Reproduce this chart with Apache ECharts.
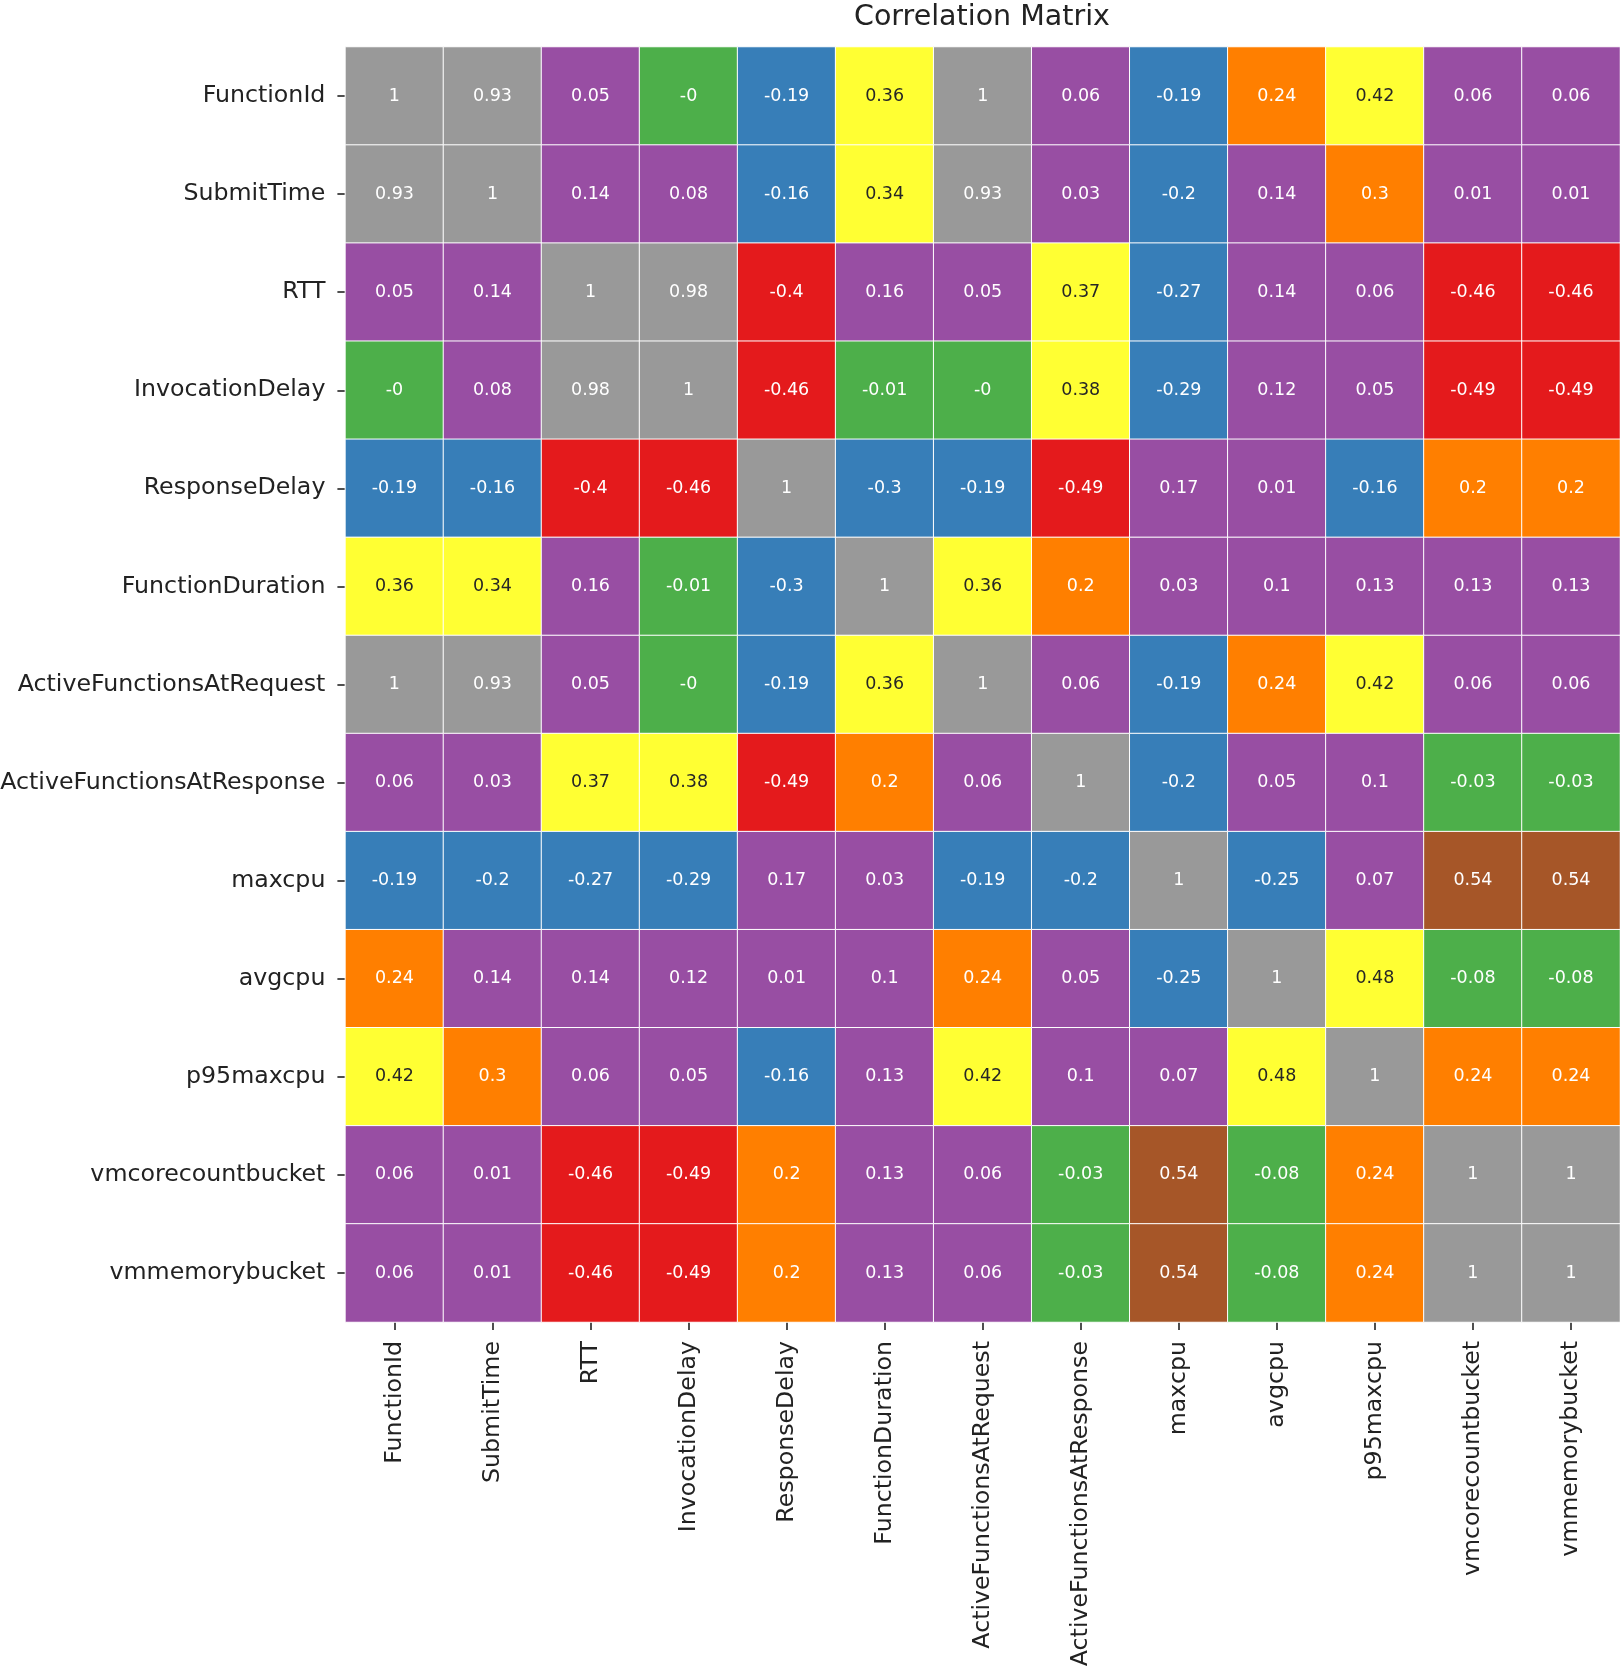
<!DOCTYPE html>
<html>
<head>
<meta charset="utf-8">
<script src="https://cdn.jsdelivr.net/npm/echarts@6/dist/echarts.min.js"></script>
<style>
html,body{margin:0;padding:0;background:#fff;}
#chart{width:1620px;height:1670px;}
</style>
</head>
<body>
<div id="chart"></div>
<script>
// Variables (same order on both axes)
const categories = ['FunctionId','SubmitTime','RTT','InvocationDelay','ResponseDelay','FunctionDuration',
  'ActiveFunctionsAtRequest','ActiveFunctionsAtResponse','maxcpu','avgcpu','p95maxcpu',
  'vmcorecountbucket','vmmemorybucket'];

// Correlation rows ("-0" cells are tiny negatives)
const rowFunctionId        = [1, 0.93, 0.05, -0.003, -0.19, 0.36, 1, 0.06, -0.19, 0.24, 0.42, 0.06, 0.06];
const rowSubmitTime        = [0.93, 1, 0.14, 0.08, -0.16, 0.34, 0.93, 0.03, -0.2, 0.14, 0.3, 0.01, 0.01];
const rowRTT               = [0.05, 0.14, 1, 0.98, -0.4, 0.16, 0.05, 0.37, -0.27, 0.14, 0.06, -0.46, -0.46];
const rowInvocationDelay   = [-0.003, 0.08, 0.98, 1, -0.46, -0.01, -0.003, 0.38, -0.29, 0.12, 0.05, -0.49, -0.49];
const rowResponseDelay     = [-0.19, -0.16, -0.4, -0.46, 1, -0.3, -0.19, -0.49, 0.17, 0.01, -0.16, 0.2, 0.2];
const rowFunctionDuration  = [0.36, 0.34, 0.16, -0.01, -0.3, 1, 0.36, 0.2, 0.03, 0.1, 0.13, 0.13, 0.13];
const rowActiveAtRequest   = [1, 0.93, 0.05, -0.003, -0.19, 0.36, 1, 0.06, -0.19, 0.24, 0.42, 0.06, 0.06];
const rowActiveAtResponse  = [0.06, 0.03, 0.37, 0.38, -0.49, 0.2, 0.06, 1, -0.2, 0.05, 0.1, -0.03, -0.03];
const rowMaxcpu            = [-0.19, -0.2, -0.27, -0.29, 0.17, 0.03, -0.19, -0.2, 1, -0.25, 0.07, 0.54, 0.54];
const rowAvgcpu            = [0.24, 0.14, 0.14, 0.12, 0.01, 0.1, 0.24, 0.05, -0.25, 1, 0.48, -0.08, -0.08];
const rowP95maxcpu         = [0.42, 0.3, 0.06, 0.05, -0.16, 0.13, 0.42, 0.1, 0.07, 0.48, 1, 0.24, 0.24];
const rowVmcorecount       = [0.06, 0.01, -0.46, -0.49, 0.2, 0.13, 0.06, -0.03, 0.54, -0.08, 0.24, 1, 1];
const rowVmmemory          = [0.06, 0.01, -0.46, -0.49, 0.2, 0.13, 0.06, -0.03, 0.54, -0.08, 0.24, 1, 1];

const rows = [rowFunctionId, rowSubmitTime, rowRTT, rowInvocationDelay, rowResponseDelay, rowFunctionDuration,
  rowActiveAtRequest, rowActiveAtResponse, rowMaxcpu, rowAvgcpu, rowP95maxcpu, rowVmcorecount, rowVmmemory];

// Set1 colormap, 9 discrete bins between vmin and vmax
const set1 = ['#e41a1c','#377eb8','#4daf4a','#984ea3','#ff7f00','#ffff33','#a65628','#f781bf','#999999'];
const vmin = -0.49, vmax = 1;

const step = (vmax - vmin) / set1.length;
const pieces = set1.map((c, i) => {
  const p = { gte: vmin + i * step, color: c };
  if (i < set1.length - 1) p.lt = vmin + (i + 1) * step; else p.lte = vmax + 1e-9;
  return p;
});
function colorFor(v) {
  for (const p of pieces) {
    if (v >= p.gte && (p.lt !== undefined ? v < p.lt : v <= p.lte)) return p.color;
  }
  return set1[set1.length - 1];
}
function lum(hex) {
  const c = [1,3,5].map(i => parseInt(hex.substr(i,2),16)/255)
    .map(x => x <= 0.03928 ? x/12.92 : Math.pow((x+0.055)/1.055, 2.4));
  return 0.2126*c[0] + 0.7152*c[1] + 0.0722*c[2];
}
function fmt(v) {
  const s = (Math.round(Math.abs(v) * 100) / 100).toString();
  return (v < 0 ? '-' : '') + s;
}

const data = [];
rows.forEach((row, yi) => {
  row.forEach((v, xi) => {
    const textColor = lum(colorFor(v)) > 0.408 ? '#262626' : '#ffffff';
    data.push({ value: [xi, yi, v], label: { color: textColor } });
  });
});

const FONT = 'DejaVu Sans';
const chart = echarts.init(document.getElementById('chart'), null, { renderer: 'canvas' });
chart.setOption({
  animation: false,
  backgroundColor: '#ffffff',
  title: {
    text: 'Correlation Matrix',
    left: 977, top: -2, textAlign: 'center',
    textStyle: { fontFamily: FONT, fontSize: 28.5, fontWeight: 'normal', color: '#222' }
  },
  grid: { left: 345.4, right: 0, top: 47, height: 1275, containLabel: false, outerBoundsMode: 'none' },
  xAxis: {
    type: 'category', data: categories, position: 'bottom',
    axisLine: { show: false },
    axisTick: { show: true, alignWithLabel: true, length: 8, lineStyle: { color: '#222', width: 1.6 } },
    axisLabel: { interval: 0, rotate: 90, margin: 19, fontFamily: FONT, fontSize: 23.7, color: '#222' },
    splitLine: { show: false }
  },
  yAxis: {
    type: 'category', data: categories, inverse: true,
    axisLine: { show: false },
    axisTick: { show: true, alignWithLabel: true, length: 8, lineStyle: { color: '#222', width: 1.6 } },
    axisLabel: { interval: 0, margin: 20, fontFamily: FONT, fontSize: 23.7, color: '#222' },
    splitLine: { show: false }
  },
  visualMap: {
    type: 'piecewise', show: false, dimension: 2, pieces: pieces, seriesIndex: 0
  },
  series: [{
    type: 'heatmap',
    data: data,
    itemStyle: { borderColor: '#ffffff', borderWidth: 1 },
    label: {
      show: true, fontFamily: FONT, fontSize: 17.5,
      formatter: p => fmt(p.value[2])
    },
    emphasis: { disabled: true }
  }]
});
</script>
</body>
</html>
